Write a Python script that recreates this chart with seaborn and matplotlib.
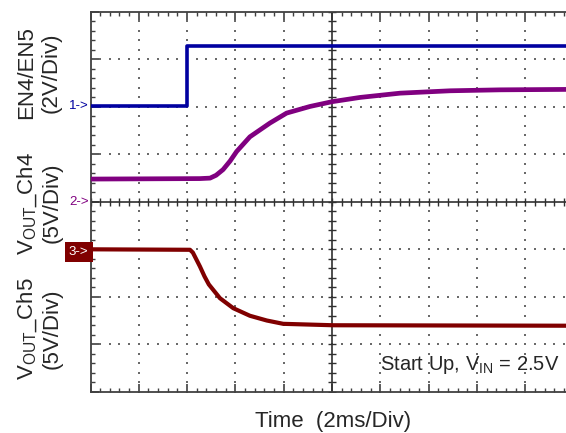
import numpy as np
import seaborn as sns
import matplotlib.pyplot as plt
import matplotlib.transforms as mtransforms
from matplotlib.ticker import MultipleLocator

# scope traces
# time in ms (2 ms/div), amplitude in divisions from screen centre
time_en = [0, 4.0, 4.0, 20]
en_level = [2.02, 2.02, 3.29, 3.29]

time_ch4 = [0, 4.53, 4.95, 5.2, 5.49, 5.78, 6.05, 6.6, 7.43, 8.12, 9.09, 10.0, 11.16, 12.82, 14.89, 16.96, 20]
vout_ch4 = [0.48, 0.49, 0.50, 0.56, 0.68, 0.86, 1.06, 1.37, 1.66, 1.87, 2.01, 2.11, 2.20, 2.29, 2.34, 2.36, 2.37]

time_ch5 = [0, 4.12, 4.24, 4.53, 4.72, 4.9, 5.36, 5.91, 6.6, 7.3, 7.98, 10.04, 20]
vout_ch5 = [-1.0, -1.01, -1.07, -1.36, -1.57, -1.74, -2.03, -2.24, -2.40, -2.50, -2.57, -2.60, -2.61]

# channel ground markers on the left edge
marker_labels = ["1->", "2->", "3->"]
marker_levels = [2.02, 0.0, -1.05]
colors = ["#0000a0", "#800080", "#800000"]

sns.set_style("white")
plt.rcParams["font.family"] = ["Liberation Sans", "DejaVu Sans"]
plt.rcParams["mathtext.fontset"] = "custom"
plt.rcParams["mathtext.rm"] = "Liberation Sans"

fig = plt.figure(figsize=(5.66, 4.33), dpi=100)
# screen is cropped on the right, so the axes run past the figure edge
ax = fig.add_axes([90.5 / 566, 41.3 / 433, 483 / 566, 379.7 / 433])

# dotted graticule: dots at every minor step on each major division
minor_x = np.arange(0, 20.01, 0.4)
minor_y = np.arange(-4, 4.01, 0.2)
gx, gy = [], []
for xm in np.arange(2, 20, 2):
    if xm == 10:
        continue
    gx += [xm] * len(minor_y)
    gy += list(minor_y)
for ym in np.arange(-3, 4, 1):
    if ym == 0:
        continue
    gx += list(minor_x)
    gy += [ym] * len(minor_x)
ax.scatter(gx, gy, s=1.6, marker="s", color="#6a6a6a", lw=0, zorder=1)

# centre cross with its own ticks
ax.axvline(10, color="#303030", lw=1.2, zorder=1.5)
ax.axhline(0, color="#303030", lw=1.2, zorder=1.5)
ax.scatter(np.full_like(minor_y, 10), minor_y, marker="_", s=30, color="#303030", lw=1, zorder=1.5)
ax.scatter(minor_x, np.zeros_like(minor_x), marker="|", s=30, color="#303030", lw=1, zorder=1.5)

# traces
traces = [(time_en, en_level, 2.6), (time_ch4, vout_ch4, 3.4), (time_ch5, vout_ch5, 3.0)]
for (t, v, lw), c in zip(traces, colors):
    sns.lineplot(x=t, y=v, ax=ax, color=c, lw=lw, estimator=None, sort=False, zorder=3,
                 solid_joinstyle="round")

ax.set_xlim(0, 20)
ax.set_ylim(-4, 4)
ax.xaxis.set_major_locator(MultipleLocator(2))
ax.xaxis.set_minor_locator(MultipleLocator(0.4))
ax.yaxis.set_major_locator(MultipleLocator(1))
ax.yaxis.set_minor_locator(MultipleLocator(0.2))
ax.tick_params(which="both", direction="in", top=True, bottom=True, left=True, right=False,
               labelleft=False, labelbottom=False, color="#404040")
ax.tick_params(which="major", length=6, width=1.2)
ax.tick_params(which="minor", length=3, width=1)
for side in ["top", "bottom", "left"]:
    ax.spines[side].set_color("#404040")
    ax.spines[side].set_linewidth(1.3)
ax.spines["right"].set_visible(False)
ax.set_xlabel("")
ax.set_ylabel("")

# ground markers
trans = mtransforms.blended_transform_factory(ax.transAxes, ax.transData)
for lab, lev, c in zip(marker_labels, marker_levels, colors):
    if lab == "3->":
        ax.text(-0.004, lev, lab, transform=trans, ha="right", va="center", fontsize=9.5,
                color="white", bbox=dict(boxstyle="square,pad=0.3", fc=c, ec="none"))
    else:
        ax.text(-0.004, lev, lab, transform=trans, ha="right", va="center", fontsize=9.5, color=c)

# channel labels
fig.text(39 / 566, 1 - 73 / 433, "EN4/EN5\n(2V/Div)", rotation=90, ha="center", va="center",
         multialignment="center", fontsize=16)
fig.text(39 / 566, 1 - 203 / 433, "V$_{\\mathregular{OUT}}$_Ch4\n(5V/Div)", rotation=90,
         ha="center", va="center", multialignment="center", fontsize=16)
fig.text(39 / 566, 1 - 329 / 433, "V$_{\\mathregular{OUT}}$_Ch5\n(5V/Div)", rotation=90,
         ha="center", va="center", multialignment="center", fontsize=16)

fig.text(333 / 566, 6.3 / 433, "Time  (2ms/Div)", ha="center", va="baseline", fontsize=16)
fig.text(559 / 566, 1 - 370 / 433, "Start Up, V$_{\\mathregular{IN}}$ = 2.5V", ha="right",
         va="baseline", fontsize=14.5)

fig.savefig("out.png", dpi=100)
